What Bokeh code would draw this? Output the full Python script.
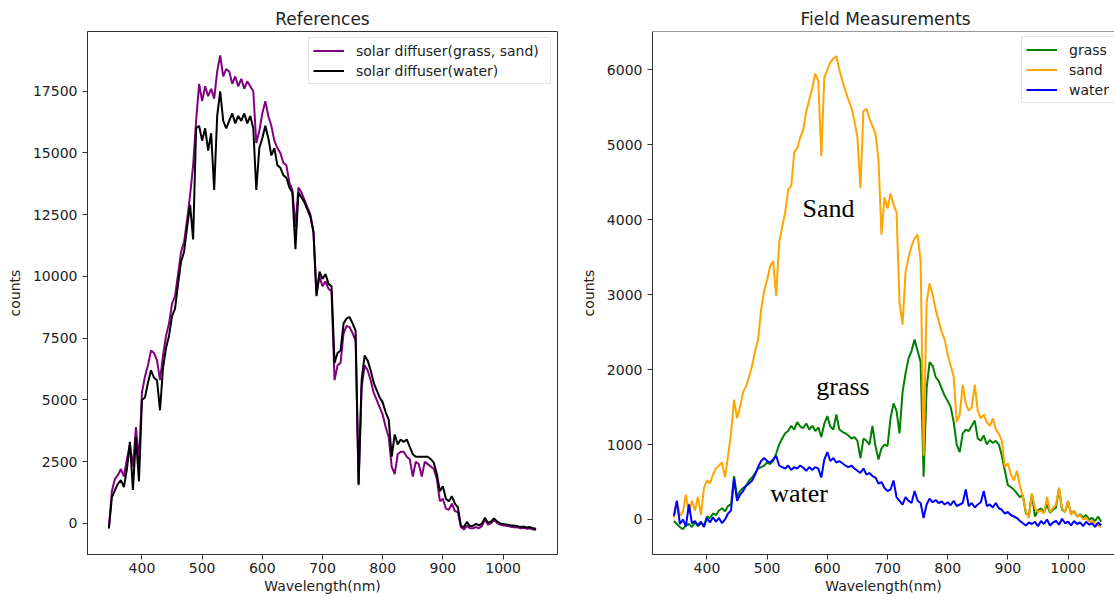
from bokeh.plotting import figure
from bokeh.layouts import row
from bokeh.models import ColumnDataSource, Legend, LegendItem, FixedTicker, Span, Label
from bokeh.embed import file_html
from bokeh.resources import INLINE

# ---------------- data ----------------
wavelength = list(range(345, 1060, 5))  # nm, sampling grid (143 points)

ref_grass_sand = [
    -200, 1300, 1800, 1950, 2200, 1900, 2600, 3200, 2300, 3900,
    2500, 5300, 5950, 6400, 7000, 6900, 6600, 5800, 6800, 7600,
    8100, 8900, 9200, 10100, 11000, 11400, 12300, 13300, 14500, 16300,
    17800, 17100, 17700, 17300, 17600, 17200, 18300, 18950, 18100, 18400,
    18300, 17800, 18100, 17700, 18000, 17600, 17900, 17700, 17500, 15400,
    15900, 16600, 17100, 16500, 16100, 15500, 15200, 15000, 14600, 14500,
    13800, 13500, 12000, 13600, 13400, 13100, 12800, 12500, 11800, 9300,
    10000, 9600, 9800, 9500, 9400, 5800, 6400, 6500, 7700, 8000,
    7950, 7700, 7400, 1550, 5500, 6400, 6200, 5800, 5300, 5000,
    4700, 4400, 3900, 3500, 2300, 2000, 2800, 2900, 2900, 2700,
    2600, 1900, 2500, 2400, 1900, 2500, 2400, 2300, 2200, 1800,
    900, 1000, 600, 550, 800, 500, 450, -150, -250, -100,
    -200, -200, -150, -200, -100, 150, -50, 0, 150, 20,
    -50, -80, -100, -120, -150, -160, -170, -200, -180, -220,
    -200, -250, -260,
]
ref_water = [
    -200, 1050, 1340, 1600, 1750, 1470, 2200, 3300, 1350, 3500,
    1700, 5000, 5100, 5700, 6200, 5900, 5800, 4580, 6300, 7100,
    7600, 8400, 8700, 9700, 10600, 11000, 12000, 12900, 11500, 16000,
    16100, 15500, 16000, 15100, 15800, 13500, 16500, 17500, 16300, 16000,
    16300, 16600, 16200, 16500, 16300, 16600, 16200, 16500, 16000, 13500,
    15200, 15600, 16100, 15600, 14900, 15200, 14500, 14400, 14100, 14000,
    13600, 13400, 11100, 13400, 13200, 13000, 12700, 12400, 11800, 9200,
    10200, 9900, 10100, 9700, 9600, 6500, 6900, 7000, 8100, 8300,
    8350, 8100, 7800, 1600, 5800, 6800, 6600, 6200, 5700, 5400,
    5100, 4900, 4500, 4200, 2700, 3600, 3200, 3400, 3300, 3400,
    3100, 2800, 2700, 2700, 2700, 2700, 2700, 2600, 2450, 2000,
    1300, 1500, 1000, 900, 1100, 800, 650, -100, -150, 60,
    -120, -100, -20, -80, 0, 230, 20, 80, 200, 80,
    0, -20, -40, -60, -90, -100, -120, -150, -130, -170,
    -150, -200, -220,
]
field_grass = [
    -20, -60, -100, -130, -80, -60, -100, -40, -90, -50,
    -80, 40, 20, 80, 60, 120, 150, 110, 180, 200,
    580, 300, 380, 420, 450, 520, 560, 620, 680, 700,
    720, 760, 740, 780, 880, 1000, 1080, 1150, 1180, 1250,
    1200, 1300, 1240, 1220, 1280, 1200, 1250, 1180, 1230, 1100,
    1280, 1380, 1240, 1200, 1400, 1200, 1170, 1150, 1120, 1080,
    1100, 1050, 820, 1080, 1050, 1000, 1250, 980, 800, 950,
    1000, 980, 1350, 1550, 1450, 1150, 1700, 1950, 2150, 2250,
    2400, 2250, 2100, 570, 1750, 2100, 2050, 1900, 1850, 1750,
    1650, 1580, 1500, 1300, 1000, 900, 1150, 1200, 1180, 1250,
    1320, 1080, 1050, 1120, 1000, 1060, 1020, 1050, 1000, 850,
    650, 460, 430, 400, 350, 300, 320, 80, 60, 350,
    40, 120, 150, 100, 200, 90, 130, 160, 420, 130,
    100, 240, 80, 110, 40, 70, 30, 60, 0, 20,
    -20, 40, -30,
]
field_sand = [
    20, 250, 50, 100, 330, 80, 250, 120, 300, 60,
    420, 520, 480, 600, 680, 720, 760, 560, 850, 1150,
    1600, 1350, 1500, 1700, 1780, 1900, 2050, 2250, 2400, 2800,
    3050, 3200, 3380, 3450, 2980, 3700, 3900, 4100, 4400, 4450,
    4900, 4950, 5100, 5200, 5450, 5600, 5750, 5950, 5850, 4850,
    5900, 6000, 6100, 6150, 6180, 6000, 5850, 5720, 5600, 5500,
    5320, 5100, 4420, 5450, 5480, 5350, 5250, 5150, 4800, 3800,
    4300, 4150, 4350, 4200, 4100, 2900, 2600, 3300, 3500, 3650,
    3750, 3800, 3450, 850, 2900, 3150, 3000, 2800, 2650, 2500,
    2400, 2200, 2050, 1900, 1300, 1400, 1800, 1550, 1450, 1500,
    1800, 1450, 1350, 1400, 1300, 1250, 1350, 1200, 1150, 1050,
    700, 750, 600, 520, 650, 450, 300, 100, 20, 350,
    150, 100, 120, 80, 300, 100, 150, 200, 420, 150,
    100, 250, 60, 120, 40, 60, 0, 20, -30, -20,
    -50, -80, -100,
]
field_water = [
    50, 250, -60, 0, -90, 200, -50, -20, -80, -30,
    -100, 20, -40, 30, -30, 20, -50, 0, 80, 120,
    550, 250, 330, 380, 450, 480, 520, 600, 700, 780,
    820, 780, 760, 800, 850, 720, 700, 680, 720, 660,
    700, 680, 720, 690, 650, 700, 660, 700, 680, 560,
    800, 900, 780, 820, 760, 780, 750, 720, 700, 720,
    680, 650, 620, 680, 600, 620, 580, 560, 480, 500,
    420, 380, 400, 520, 300, 250, 200, 300, 250, 220,
    380, 250, 220, 20, 200, 280, 230, 260, 220, 240,
    200, 230, 190, 250, 180, 200, 220, 400, 180, 220,
    160, 200, 230, 380, 180, 200, 160, 220, 150, 130,
    80, 100, 60, 40, 20, -20, -50, -80, -40, -60,
    -30, -90, -20, -60, 0, -80, -40, -20, -70, 10,
    -50, -30, -80, -20, -60, -40, -90, -30, -70, -50,
    -100, -40, -80,
]

x_ticks = [400, 500, 600, 700, 800, 900, 1000]
x_tick_labels = ["400", "500", "600", "700", "800", "900", "1000"]
y1_ticks = [0, 2500, 5000, 7500, 10000, 12500, 15000, 17500]
y1_tick_labels = ["0", "2500", "5000", "7500", "10000", "12500", "15000", "17500"]
y2_ticks = [0, 1000, 2000, 3000, 4000, 5000, 6000]
y2_tick_labels = ["0", "1000", "2000", "3000", "4000", "5000", "6000"]

ref_labels = ["solar diffuser(grass, sand)", "solar diffuser(water)"]
field_labels = ["grass", "sand", "water"]

# annotation texts (data coordinates)
notes = ["Sand", "grass", "water"]
note_x = [602, 626, 553]
note_y = [4150, 1780, 345]

src = ColumnDataSource(dict(
    wl=wavelength, rgs=ref_grass_sand, rw=ref_water,
    fg=field_grass, fs=field_sand, fw=field_water,
))

FONT = "DejaVu Sans"
SPINE = "#333333"
TXT = "#222222"
LW = 2.0


def style(p, yticks, ylabels):
    p.xgrid.visible = False
    p.ygrid.visible = False
    p.background_fill_color = "white"
    p.border_fill_color = "white"
    p.xaxis.ticker = FixedTicker(ticks=x_ticks)
    p.xaxis.major_label_overrides = {t: l for t, l in zip(x_ticks, x_tick_labels)}
    p.yaxis.ticker = FixedTicker(ticks=yticks)
    p.yaxis.major_label_overrides = {t: l for t, l in zip(yticks, ylabels)}
    for ax in (p.xaxis[0], p.yaxis[0]):
        ax.axis_line_color = SPINE
        ax.major_tick_line_color = SPINE
        ax.minor_tick_line_color = None
        ax.major_tick_out = 5
        ax.major_tick_in = 0
        ax.major_label_text_font = FONT
        ax.major_label_text_font_size = "14px"
        ax.major_label_text_color = TXT
        ax.axis_label_text_font = FONT
        ax.axis_label_text_font_size = "14px"
        ax.axis_label_text_font_style = "normal"
        ax.axis_label_text_color = TXT
    p.xaxis.major_label_standoff = 3
    p.xaxis.axis_label_standoff = 2
    p.yaxis.major_label_standoff = 5
    p.yaxis.axis_label_standoff = 7
    p.xaxis.axis_label = "Wavelength(nm)"
    p.yaxis.axis_label = "counts"
    p.title.text_font = FONT
    p.title.text_font_size = "17px"
    p.title.text_font_style = "normal"
    p.title.text_color = TXT
    p.title.standoff = 6


def style_legend(lg, label_w):
    lg.label_text_font = FONT
    lg.label_text_font_size = "14px"
    lg.label_text_color = TXT
    lg.glyph_width = 31
    lg.glyph_height = 17
    lg.label_height = 17
    lg.label_width = label_w
    lg.label_standoff = 12
    lg.spacing = 3
    lg.padding = 4
    lg.border_line_color = "#cccccc"
    lg.border_line_width = 1
    lg.background_fill_color = "white"
    lg.background_fill_alpha = 0.9


# ---------------- left: References ----------------
p1 = figure(frame_width=470, frame_height=523,
            x_range=(309.5, 1090.5), y_range=(-1260, 19920),
            min_border_left=87, min_border_right=20,
            min_border_top=31, min_border_bottom=43,
            output_backend="svg", toolbar_location=None, title="References")
style(p1, y1_ticks, y1_tick_labels)
p1.title.align = "center"
p1.outline_line_color = SPINE

r_a = p1.line("wl", "rgs", source=src, line_color="#800080", line_width=LW)
r_b = p1.line("wl", "rw", source=src, line_color="black", line_width=LW)
lg1 = Legend(items=[LegendItem(label=ref_labels[0], renderers=[r_a]),
                    LegendItem(label=ref_labels[1], renderers=[r_b])],
             location="top_right", margin=6)
style_legend(lg1, 190)
p1.add_layout(lg1)

# ---------------- right: Field Measurements ----------------
p2 = figure(frame_width=462, frame_height=523,
            x_range=(309.5, 1077.2), y_range=(-467, 6511),
            min_border_left=75, min_border_right=0,
            min_border_top=31, min_border_bottom=43,
            output_backend="svg", toolbar_location=None, title="Field Measurements")
style(p2, y2_ticks, y2_tick_labels)
p2.title.align = "left"
p2.title.offset = 148
p2.outline_line_color = None
p2.add_layout(Span(location=6511, dimension="width", line_color=SPINE, line_width=1))

g1 = p2.line("wl", "fg", source=src, line_color="#008000", line_width=LW)
g2 = p2.line("wl", "fs", source=src, line_color="#FFA500", line_width=LW)
g3 = p2.line("wl", "fw", source=src, line_color="#0000FF", line_width=LW)
lg2 = Legend(items=[LegendItem(label=field_labels[0], renderers=[g1]),
                    LegendItem(label=field_labels[1], renderers=[g2]),
                    LegendItem(label=field_labels[2], renderers=[g3])],
             location=(369, 451))
style_legend(lg2, 41)
p2.add_layout(lg2)

for t, x, y in zip(notes, note_x, note_y):
    p2.add_layout(Label(x=x, y=y, text=t, text_font="Liberation Serif",
                        text_font_size="26px", text_color="black",
                        text_align="center", text_baseline="alphabetic"))

layout = row(p1, p2)
open("out.html", "w").write(file_html(layout, INLINE))
